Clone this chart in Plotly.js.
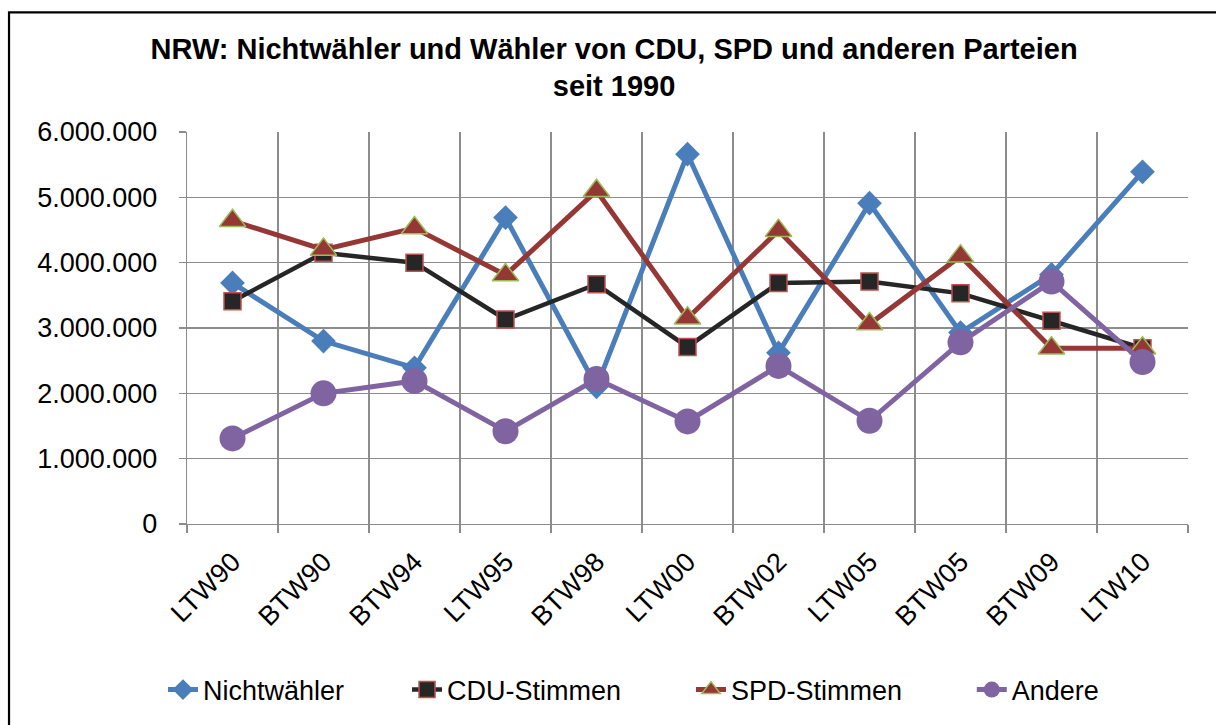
<!DOCTYPE html>
<html>
<head>
<meta charset="utf-8">
<script src="https://cdn.plot.ly/plotly-3.0.1.min.js"></script>
<style>html,body{margin:0;padding:0;background:#fff;}#chart{width:1216px;height:725px;}</style>
</head>
<body>
<div id="chart"></div>
<script>
const categories = ["LTW90","BTW90","BTW94","LTW95","BTW98","LTW00","BTW02","LTW05","BTW05","BTW09","LTW10"];
const nichtwaehler = [3690000,2800000,2390000,4690000,2100000,5660000,2620000,4910000,2930000,3820000,5390000];
const cduStimmen   = [3410000,4150000,4000000,3130000,3670000,2710000,3690000,3710000,3530000,3110000,2690000];
const spdStimmen   = [4640000,4200000,4530000,3810000,5100000,3150000,4490000,3060000,4100000,2690000,2690000];
const andere       = [1310000,2000000,2190000,1420000,2220000,1570000,2420000,1580000,2780000,3710000,2480000];
const seriesNames  = ["Nichtwähler","CDU-Stimmen","SPD-Stimmen","Andere"];

const FONT = "Arial, 'Liberation Sans', sans-serif";

const traces = [
  {x: categories, y: nichtwaehler, name: seriesNames[0], type: "scatter", mode: "lines+markers", legend: "legend",
   line: {color: "#4A7EBB", width: 5},
   marker: {symbol: "diamond", size: 19, color: "#4A7EBB", line: {width: 0}}},
  {x: categories, y: cduStimmen, name: seriesNames[1], type: "scatter", mode: "lines+markers", legend: "legend2",
   line: {color: "#262626", width: 4.5},
   marker: {symbol: "square", size: 17, color: "#262626", line: {color: "#C0504D", width: 1.5}}},
  {x: categories, y: spdStimmen, name: seriesNames[2], type: "scatter", mode: "lines+markers", legend: "legend3",
   line: {color: "#953735", width: 5},
   marker: {symbol: "triangle-up", size: 23, color: "#953735", line: {color: "#9BBB59", width: 1.5}}},
  {x: categories, y: andere, name: seriesNames[3], type: "scatter", mode: "lines+markers", legend: "legend4",
   line: {color: "#8064A2", width: 5},
   marker: {symbol: "circle", size: 26, color: "#8064A2", line: {width: 0}}}
];

function legendAt(x) {
  return {
    orientation: "h", x: x, xanchor: "left", y: -0.42, yanchor: "middle",
    font: {family: FONT, size: 27, color: "#000000"},
    bgcolor: "rgba(0,0,0,0)", borderwidth: 0
  };
}

const layout = {
  width: 1216, height: 725,
  paper_bgcolor: "#ffffff", plot_bgcolor: "#ffffff",
  separators: ",.",
  margin: {l: 187, r: 28, t: 132, b: 200},
  font: {family: FONT, color: "#000000", size: 27},
  title: {
    text: "<b>NRW: Nichtwähler und Wähler von CDU, SPD und anderen Parteien<br>seit 1990</b>",
    font: {family: FONT, size: 29, color: "#000000"},
    x: 0.505, xref: "container", xanchor: "center",
    y: 0.919, yref: "container", yanchor: "top"
  },
  xaxis: {
    type: "category",
    range: [-0.5, 10.5],
    tickson: "boundaries",
    showgrid: true, gridcolor: "#8C8C8C", gridwidth: 1.3,
    showline: true, linecolor: "#8C8C8C", linewidth: 1.3,
    ticks: "outside", ticklen: 8, tickcolor: "#8C8C8C", tickwidth: 1.3,
    tickangle: -45,
    ticklabelstandoff: 10,
    tickfont: {family: FONT, size: 27, color: "#000000"},
    zeroline: false
  },
  yaxis: {
    range: [0, 6000000],
    dtick: 1000000, tick0: 0,
    tickformat: ",d",
    showgrid: true, gridcolor: "#8C8C8C", gridwidth: 1.3,
    showline: true, linecolor: "#8C8C8C", linewidth: 1.3,
    ticks: "outside", ticklen: 7, tickcolor: "#8C8C8C", tickwidth: 1.3,
    ticklabelstandoff: 16,
    tickfont: {family: FONT, size: 27, color: "#000000"},
    zeroline: false
  },
  showlegend: true,
  legend: legendAt(-0.024),
  legend2: legendAt(0.2198),
  legend3: legendAt(0.5035),
  legend4: legendAt(0.784),
  shapes: [{
    type: "rect", xref: "paper", yref: "paper",
    x0: -0.1778, x1: 1.05, y0: -0.7, y1: 1.3053,
    line: {color: "#000000", width: 2.2}, fillcolor: "rgba(0,0,0,0)", layer: "above"
  }]
};

Plotly.newPlot("chart", traces, layout, {displayModeBar: false, staticPlot: true});
</script>
</body>
</html>
